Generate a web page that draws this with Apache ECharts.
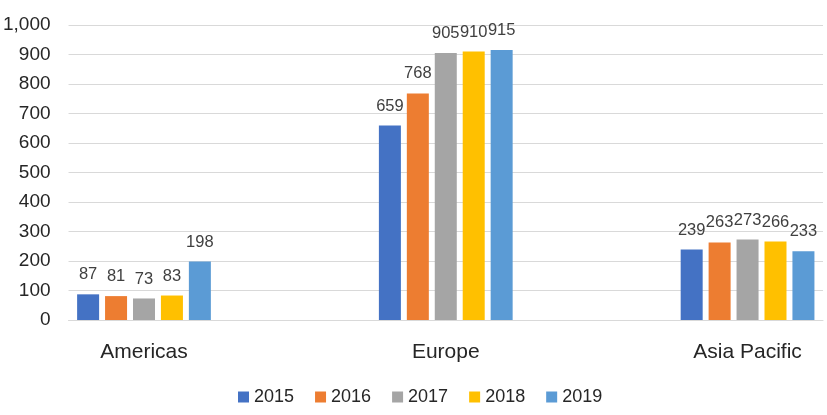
<!DOCTYPE html>
<html>
<head>
<meta charset="utf-8">
<script src="https://cdn.jsdelivr.net/npm/echarts@6/dist/echarts.min.js"></script>
<style>html,body{margin:0;padding:0;background:#fff}#c{width:827px;height:415px}</style>
</head>
<body>
<div id="c"></div>
<script>
const categories = ['Americas', '', 'Europe', '', 'Asia Pacific'];
const years = ['2015', '2016', '2017', '2018', '2019'];
const v2015 = [87, null, 659, null, 239];
const v2016 = [81, null, 768, null, 263];
const v2017 = [73, null, 905, null, 273];
const v2018 = [83, null, 910, null, 266];
const v2019 = [198, null, 915, null, 233];
const yTicks = [0, 100, 200, 300, 400, 500, 600, 700, 800, 900, 1000];
const colors = ['#4472C4', '#ED7D31', '#A5A5A5', '#FFC000', '#5B9BD5'];

const values = [v2015, v2016, v2017, v2018, v2019];
const font = 'Liberation Sans, Arial, sans-serif';
const chart = echarts.init(document.getElementById('c'), null, {renderer: 'canvas'});
chart.setOption({
  animation: false,
  color: colors,
  textStyle: {fontFamily: font},
  grid: {left: 65, right: 4, top: 25, bottom: 95, containLabel: false},
  legend: {
    data: years, left: 238, top: 388, padding: 0, itemWidth: 11, itemHeight: 11, itemGap: 21,
    icon: 'rect',
    textStyle: {fontSize: 18, color: '#262626', fontFamily: font}
  },
  xAxis: {
    type: 'category', data: categories,
    axisLine: {lineStyle: {color: '#d9d9d9', width: 1}},
    axisTick: {show: false},
    axisLabel: {fontSize: 21, color: '#262626', margin: 22, interval: 0, fontFamily: font}
  },
  yAxis: {
    type: 'value', min: yTicks[0], max: yTicks[yTicks.length - 1], interval: 100,
    axisLine: {show: false}, axisTick: {show: false},
    splitLine: {lineStyle: {color: '#d9d9d9', width: 1}},
    axisLabel: {fontSize: 19, color: '#262626', margin: 18, fontFamily: font,
      formatter: v => v.toLocaleString('en-US')}
  },
  series: years.map((y, i) => ({
    name: y, type: 'bar', data: values[i], barWidth: 22, barGap: '27%',
    itemStyle: {color: colors[i]},
    label: {show: true, position: 'top', distance: 11, fontSize: 16.5, color: '#404040', fontFamily: font}
  }))
});
</script>
</body>
</html>
